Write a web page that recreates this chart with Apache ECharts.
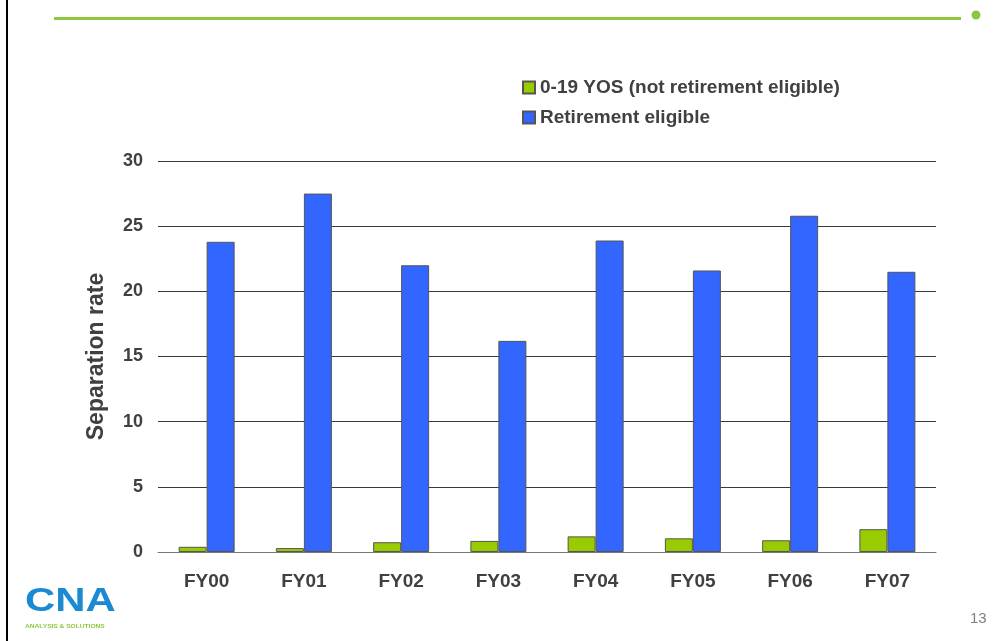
<!DOCTYPE html>
<html>
<head>
<meta charset="utf-8">
<script src="https://cdn.jsdelivr.net/npm/echarts@6/dist/echarts.min.js"></script>
<style>
    html, body {
        margin: 0;
        padding: 0;
        background: #fff;
    }
    #chart {
        width: 1002px;
        height: 641px;
    }
</style>
</head>
<body>
<div id="chart"></div>
<script>
// 数据
let categories = ['FY00', 'FY01', 'FY02', 'FY03', 'FY04', 'FY05', 'FY06', 'FY07'];
let notEligible = [0.4, 0.3, 0.75, 0.85, 1.2, 1.05, 0.9, 1.75];
let eligible = [23.8, 27.5, 22.0, 16.2, 23.9, 21.6, 25.8, 21.5];
let seriesNames = ['0-19 YOS (not retirement eligible)', 'Retirement eligible'];

let textColor = '#404040';
let gridColor = '#3a3a3a';
let fontFamily = 'Liberation Sans, Arial, sans-serif';

let myChart = echarts.init(document.getElementById('chart'));

let option = {
    backgroundColor: '#fff',
    animation: false,
    grid: {
        left: 158,
        right: 66,
        top: 161,
        bottom: 89
    },
    legend: {
        orient: 'vertical',
        left: 517,
        top: 73,
        icon: 'rect',
        itemWidth: 12,
        itemHeight: 12,
        itemGap: 11,
        textStyle: {
            color: textColor,
            fontSize: 19,
            fontWeight: 'bold',
            fontFamily: fontFamily,
            lineHeight: 19
        },
        data: seriesNames
    },
    xAxis: {
        type: 'category',
        data: categories,
        axisTick: { show: false },
        axisLine: {
            lineStyle: { color: '#777', width: 1 }
        },
        axisLabel: {
            color: textColor,
            fontSize: 19,
            fontWeight: 'bold',
            fontFamily: fontFamily,
            margin: 20
        }
    },
    yAxis: {
        type: 'value',
        min: 0,
        max: 30,
        interval: 5,
        name: 'Separation rate',
        nameLocation: 'middle',
        nameGap: 50,
        nameRotate: 90,
        nameTextStyle: {
            color: textColor,
            fontSize: 23,
            fontWeight: 'bold',
            fontFamily: fontFamily
        },
        axisLine: { show: false },
        axisTick: { show: false },
        axisLabel: {
            color: textColor,
            fontSize: 18,
            fontWeight: 'bold',
            fontFamily: fontFamily,
            margin: 15
        },
        splitLine: { // 网格线
            lineStyle: { color: gridColor, width: 1 }
        }
    },
    series: [
        {
            type: 'bar',
            name: seriesNames[0],
            data: notEligible,
            barWidth: 28,
            barGap: '0%',
            itemStyle: {
                color: '#99CC00',
                borderColor: '#555',
                borderWidth: 1
            }
        },
        {
            type: 'bar',
            name: seriesNames[1],
            data: eligible,
            barWidth: 28,
            barGap: '0%',
            itemStyle: {
                color: '#3366FF',
                borderColor: '#555',
                borderWidth: 1
            }
        }
    ],
    graphic: [
        // 左侧边框
        {
            type: 'rect',
            shape: { x: 6, y: 0, width: 2, height: 641 },
            style: { fill: '#000' }
        },
        // 顶部绿线 + 圆点
        {
            type: 'rect',
            shape: { x: 54, y: 17, width: 907, height: 3 },
            style: { fill: '#8DC63F' }
        },
        {
            type: 'circle',
            shape: { cx: 976, cy: 15, r: 4.5 },
            style: { fill: '#8DC63F' }
        },
        // 页码
        {
            type: 'text',
            left: 970,
            top: 611,
            style: {
                text: '13',
                fill: '#7f7f7f',
                fontSize: 15,
                fontFamily: fontFamily
            }
        },
        // logo
        {
            type: 'text',
            x: 25,
            y: 585,
            scaleX: 1.27,
            style: {
                text: 'CNA',
                fill: '#1B8AD3',
                fontSize: 33,
                fontWeight: 'bold',
                fontFamily: fontFamily
            }
        },
        {
            type: 'text',
            x: 25,
            y: 623,
            scaleX: 1.1,
            style: {
                text: 'ANALYSIS & SOLUTIONS',
                fill: '#8DC63F',
                fontSize: 6,
                fontWeight: 'bold',
                fontFamily: fontFamily
            }
        }
    ]
};

myChart.setOption(option);
</script>
</body>
</html>
